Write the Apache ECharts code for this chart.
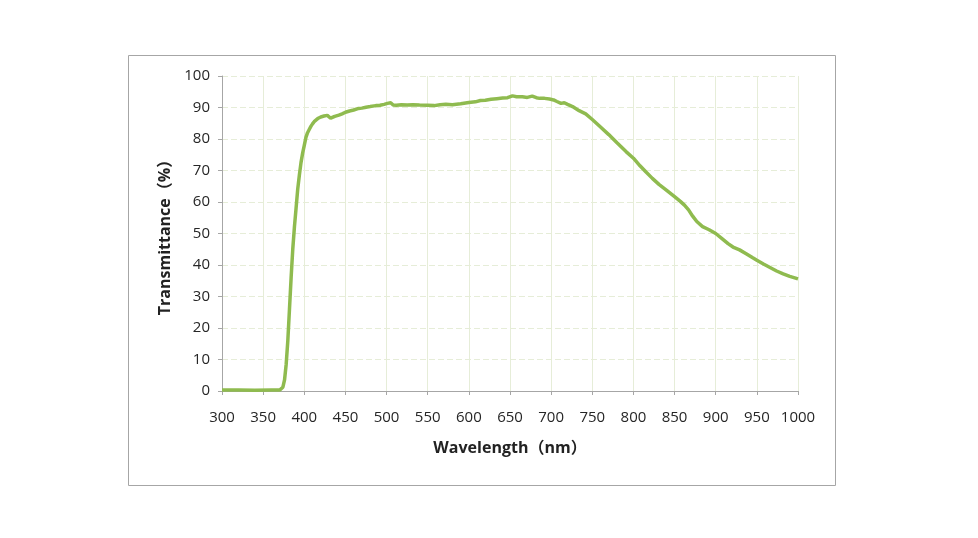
<!DOCTYPE html>
<html>
<head>
<meta charset="utf-8">
<script src="https://cdn.jsdelivr.net/npm/echarts@6/dist/echarts.min.js"></script>
<style>
html,body{margin:0;padding:0;background:#fff;}
#chart{width:978px;height:538px;}
</style>
</head>
<body>
<div id="chart"></div>
<script>
const wavelengths = [300,320,340,360,370,372,374,376,378,380,382,384,386,388,390,392,394,396,398,400,402,404,406,408,410,412,414,417,420,424,428,430,432,434,437,442,446,450,455,460,466,470,475,480,487,492,497,501,505,508,512,518,525,532,540,550,558,565,572,580,590,600,608,614,620,627,634,641,647,653,658,665,671,677,682,686,692,698,703,707,712,716,720,726,734,742,750,760,770,780,791,800,808,815,823,831,840,850,857,862,867,872,877,884,892,900,908,915,921,929,937,945,950,958,966,974,982,990,1000];
const transmittance = [0.3,0.3,0.2,0.3,0.3,0.5,1.2,3.5,8.5,16,26,36,45,52,58,64,68.5,72.5,75.5,78,80.5,82,83,84,84.8,85.5,86,86.6,87,87.3,87.5,87.2,86.6,86.8,87.2,87.6,88,88.5,88.9,89.2,89.7,89.8,90.1,90.3,90.6,90.7,91,91.3,91.5,90.8,90.7,90.9,90.8,90.9,90.8,90.7,90.6,90.9,91,90.9,91.2,91.6,91.8,92.2,92.3,92.6,92.8,93,93.1,93.7,93.4,93.4,93.2,93.6,93.1,92.9,92.9,92.7,92.4,91.9,91.3,91.5,91,90.3,89,88,86.2,83.8,81.4,78.8,76,73.9,71.5,69.6,67.5,65.6,63.8,61.7,60.2,59,57.5,55.5,53.8,52.2,51.2,50,48.3,46.8,45.7,44.8,43.6,42.3,41.5,40.3,39.2,38.1,37.2,36.4,35.6];
const xAxisName = 'Wavelength（nm）';
const yAxisName = 'Transmittance（%）';

const seriesData = wavelengths.map((w, i) => [w, transmittance[i]]);
const labelFont = '"Open Sans", "Noto Sans CJK SC", sans-serif';
const nameFont = '"Open Sans", "Noto Sans CJK SC", sans-serif';
const gridColor = '#e6edd8';
const axisColor = '#a6a6a6';

const chart = echarts.init(document.getElementById('chart'), null, {renderer: 'canvas'});
chart.setOption({
  animation: false,
  backgroundColor: '#ffffff',
  graphic: [{
    type: 'rect',
    shape: {x: 128.5, y: 55.5, width: 707, height: 430},
    style: {fill: 'none', stroke: '#a6a6a6', lineWidth: 1},
    silent: true
  }],
  grid: {left: 222, right: 180, top: 76, bottom: 147},
  xAxis: {
    type: 'value',
    min: 300, max: 1000, interval: 50,
    name: xAxisName,
    nameLocation: 'middle',
    nameGap: 49,
    nameTextStyle: {fontFamily: nameFont, fontSize: 16, fontWeight: 'bold', color: '#222'},
    axisLine: {show: true, onZero: false, lineStyle: {color: axisColor, width: 1}},
    axisTick: {show: true, length: 4, lineStyle: {color: axisColor}},
    axisLabel: {fontFamily: labelFont, fontSize: 15, color: '#262626', margin: 19, formatter: v => String(v)},
    splitLine: {show: true, lineStyle: {color: gridColor, width: 1, type: 'solid'}}
  },
  yAxis: {
    type: 'value',
    min: 0, max: 100, interval: 10,
    name: yAxisName,
    nameLocation: 'middle',
    nameGap: 49,
    nameRotate: 90,
    nameTextStyle: {fontFamily: nameFont, fontSize: 16, fontWeight: 'bold', color: '#222'},
    axisLine: {show: true, lineStyle: {color: axisColor, width: 1}},
    axisTick: {show: true, length: 4, lineStyle: {color: axisColor}},
    axisLabel: {fontFamily: labelFont, fontSize: 15, color: '#262626', margin: 12},
    splitLine: {show: true, lineStyle: {color: gridColor, width: 1, type: [6, 3]}}
  },
  series: [{
    type: 'line',
    data: seriesData,
    showSymbol: false,
    smooth: false,
    lineStyle: {color: '#8fbb4f', width: 3.5},
    itemStyle: {color: '#8fbb4f'}
  }]
});
</script>
</body>
</html>
